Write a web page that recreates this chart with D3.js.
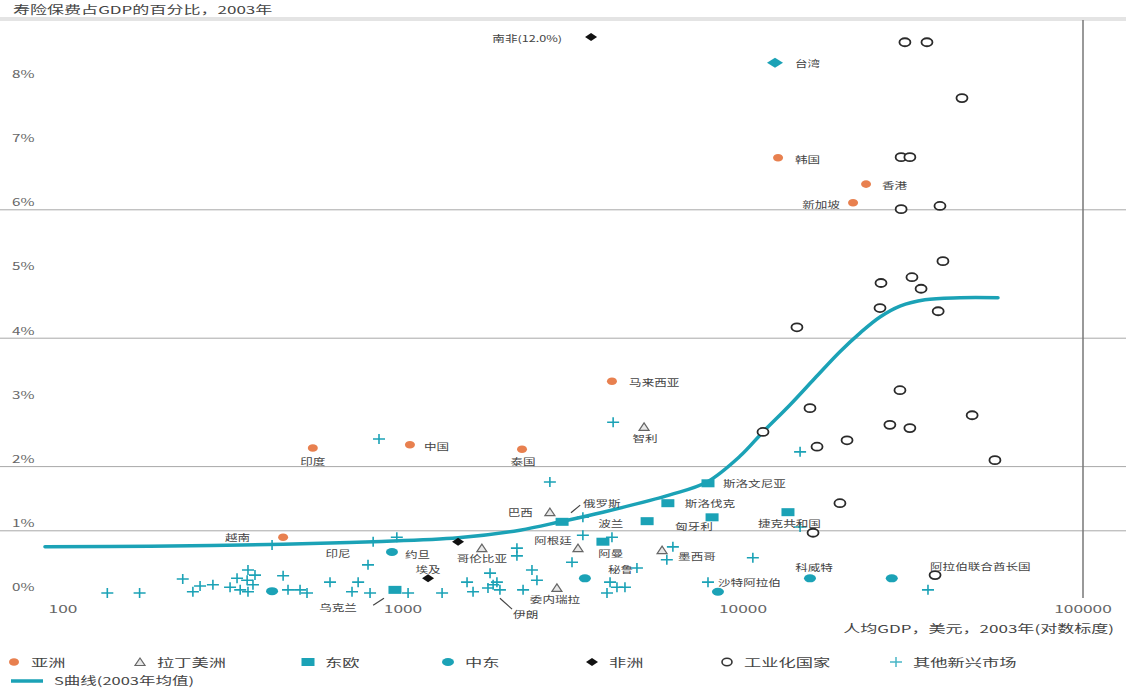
<!DOCTYPE html>
<html><head><meta charset="utf-8">
<script src="https://cdn.jsdelivr.net/npm/d3@7"></script>
<style>body{margin:0;background:#fff}svg{display:block}text{font-family:"Noto Sans CJK SC","Noto Sans",sans-serif}</style>
</head><body><svg id="c" width="1126" height="688"></svg>
<script>
// ---------- data (GDP per capita USD, life premium % of GDP) ----------
const asiaGdp = [12680,23010,21070,4117,543,1048,2239,444];
const asiaPct = [6.81,6.40,6.11,3.33,2.29,2.34,2.27,0.90];

const latamGdp = [5117,2704,1706,3271,5781,2836];
const latamPct = [2.62,1.29,0.73,0.73,0.70,0.11];

const eastEuGdp = [7889,6012,5224,8110,13560,2937,3873,947];
const eastEuPct = [1.74,1.43,1.15,1.21,1.29,1.14,0.83,0.08];

const mideastGdp = [412,928,3428,8440,15740,27390];
const mideastPct = [0.06,0.67,0.26,0.05,0.26,0.26];

const africaGdp = [3573,1185,1452];
const africaPct = [8.69,0.26,0.83];

const taiwanGdp = [12420];
const taiwanPct = [8.29];

const industrialGdp = [29940,34760,44060,29180,30960,29180,37960,38730,31400,25460,33400,25290,37500,14410,28950,15740,47200,27040,30960,20230,16510,11450,55080,19280,16070,36720];
const industrialPct = [8.61,8.61,7.74,6.82,6.82,6.01,6.06,5.20,4.95,4.86,4.77,4.47,4.42,4.17,3.19,2.91,2.80,2.65,2.60,2.41,2.31,2.54,2.10,1.43,0.97,0.31];

const otherGdp = [135,168,225,241,253,276,310,325,332,348,350,350,362,367,412,444,459,498,522,610,708,738,789,800,817,850,959,1035,1303,1543,1607,1803,1778,1841,1889,1928,2163,2163,2255,2395,2477,2704,3381,3381,4117,3141,4876,4064,4259,4496,3981,4150,6220,5970,10690,7889,14720,14720,35000];
const otherPct = [0.03,0.03,0.25,0.05,0.14,0.16,0.12,0.26,0.08,0.23,0.39,0.05,0.16,0.31,0.78,0.30,0.08,0.08,0.03,0.20,0.05,0.20,0.47,0.03,0.83,2.43,0.90,0.03,0.03,0.20,0.05,0.34,0.11,0.16,0.20,0.08,0.73,0.61,0.08,0.39,0.23,1.76,1.21,0.93,0.90,0.51,0.42,0.20,0.12,0.12,0.03,2.69,0.75,0.55,0.58,0.20,2.23,1.06,0.08];

const curveGdp = [88.5,180,444,817,1452,2208,2897,3873,6095,7833,9790,11450,13740,16290,19280,22080,25290,28950,34280,43450,56230];
const curvePct = [0.75,0.76,0.79,0.83,0.89,1.01,1.14,1.29,1.56,1.76,2.16,2.54,2.96,3.38,3.79,4.08,4.33,4.50,4.60,4.63,4.63];

const labelText = ["南非(12.0%)","台湾","韩国","香港","新加坡","马来西亚","智利","印度","中国","泰国","越南","巴西","俄罗斯","波兰","阿根廷","哥伦比亚","约旦","印尼","埃及","乌克兰","伊朗","委内瑞拉","阿曼","秘鲁","墨西哥","斯洛文尼亚","斯洛伐克","匈牙利","捷克共和国","沙特阿拉伯","科威特","阿拉伯联合酋长国"];
const labelGdp = [2937,14220,14220,25640,19280,4624,5150,543,1153,2255,355,2411,3381,3750,2762,1706,1013,644,1185,644,2108,2799,3750,4009,6442,8730,6745,6310,11070,8440,16180,35480];
const labelPct = [8.68,8.29,6.79,6.39,6.09,3.32,2.45,2.09,2.32,2.09,0.90,1.29,1.43,1.12,0.86,0.58,0.64,0.65,0.40,-0.19,-0.30,-0.06,0.65,0.40,0.61,1.74,1.43,1.07,1.12,0.20,0.44,0.45];
const labelAnchor = ["end","start","start","start","end","start","middle","middle","start","middle","end","end","start","start","middle","middle","start","middle","middle","middle","start","middle","start","start","start","start","start","start","start","start","middle","start"];

const leaderGdp1 = [817,1928,3119], leaderPct1 = [-0.16,-0.05,1.28];
const leaderGdp2 = [879,2093,3320], leaderPct2 = [-0.05,-0.22,1.40];

const yTicks = [0,1,2,3,4,5,6,7,8];
const gridValues = [1,2,4,6];
const xTicks = [100,1000,10000,100000];

const legendLabels = ["亚洲","拉丁美洲","东欧","中东","非洲","工业化国家","其他新兴市场"];
const curveLabel = "S曲线(2003年均值)";
const title = "寿险保费占GDP的百分比，2003年";
const xTitle = "人均GDP，美元，2003年(对数标度)";

// ---------- drawing ----------
const svg = d3.select("#c");
const x = d3.scaleLog().domain([100,100000]).range([63,1083]);
const y = d3.scaleLinear().domain([0,8]).range([595,81.4]);

const TEAL = "#1ba2b6", ORANGE = "#e8804f", GREY = "#555";

function txt(sel, s, px, py, o) {
  return sel.append("text")
    .attr("transform", `translate(${px},${py}) scale(${o.sx||1.5},1)`)
    .attr("text-anchor", o.anchor || "start")
    .attr("dominant-baseline", "central")
    .attr("font-size", o.size || 10)
    .attr("fill", o.fill || GREY)
    .text(s);
}

// title + underline
svg.append("rect").attr("x",0).attr("y",17).attr("width",1126).attr("height",4).attr("fill","#e4e4e4");
txt(svg, title, 13, 9, {size:11, sx:1.55, fill:"#444"});

// gridlines
svg.append("g").selectAll("line").data(gridValues).join("line")
  .attr("x1",0).attr("x2",1126).attr("y1",d=>y(d)).attr("y2",d=>y(d))
  .attr("stroke","#a8a8a8").attr("stroke-width",1);
// vertical line at 100000
svg.append("line").attr("x1",x(100000)).attr("x2",x(100000)).attr("y1",20).attr("y2",598)
  .attr("stroke","#777").attr("stroke-width",1.5);

// y tick labels
yTicks.forEach(v => txt(svg, v + "%", 12, y(v) - 8, {size:10.5, sx:1.45, fill:"#666"}));
// x tick labels
xTicks.forEach(v => txt(svg, d3.format("d")(v), x(v), 608, {size:10.5, sx:1.65, anchor:"middle", fill:"#666"}));
txt(svg, xTitle, 1114, 628, {size:11, sx:1.55, anchor:"end", fill:"#444"});

// S-curve
const curvePts = curveGdp.map((g,i)=>[x(g), y(curvePct[i])]);
svg.append("path").attr("d", d3.line().curve(d3.curveCatmullRom.alpha(0.5))(curvePts))
  .attr("fill","none").attr("stroke",TEAL).attr("stroke-width",3.5).attr("stroke-linecap","round");

// marker helpers
const plusPath = "M-6,0H6M0,-5V5";
const triPath = "M0,-4L5,3.5L-5,3.5Z";
const diaPath = "M-6,0L0,-4L6,0L0,4Z";
const pts = (G,P) => G.map((g,i)=>({x:x(g), y:y(P[i])}));
const mg = svg.append("g");

mg.append("g").selectAll("path").data(pts(otherGdp,otherPct)).join("path")
  .attr("d",plusPath).attr("transform",d=>`translate(${d.x},${d.y})`)
  .attr("stroke",TEAL).attr("stroke-width",1.6).attr("fill","none");

mg.append("g").selectAll("ellipse").data(pts(mideastGdp,mideastPct)).join("ellipse")
  .attr("cx",d=>d.x).attr("cy",d=>d.y).attr("rx",6).attr("ry",4).attr("fill",TEAL);

mg.append("g").selectAll("rect").data(pts(eastEuGdp,eastEuPct)).join("rect")
  .attr("x",d=>d.x-6.5).attr("y",d=>d.y-4).attr("width",13).attr("height",8).attr("fill",TEAL);

mg.append("g").selectAll("path").data(pts(latamGdp,latamPct)).join("path")
  .attr("d",triPath).attr("transform",d=>`translate(${d.x},${d.y})`)
  .attr("stroke","#666").attr("stroke-width",1.2).attr("fill","#e8e8e8");

mg.append("g").selectAll("ellipse").data(pts(industrialGdp,industrialPct)).join("ellipse")
  .attr("cx",d=>d.x).attr("cy",d=>d.y).attr("rx",5.5).attr("ry",4)
  .attr("fill","#fff").attr("stroke","#2a2a2a").attr("stroke-width",1.8);

mg.append("g").selectAll("ellipse").data(pts(asiaGdp,asiaPct)).join("ellipse")
  .attr("cx",d=>d.x).attr("cy",d=>d.y).attr("rx",5).attr("ry",3.8).attr("fill",ORANGE);

mg.append("g").selectAll("path").data(pts(africaGdp,africaPct)).join("path")
  .attr("d",diaPath).attr("transform",d=>`translate(${d.x},${d.y})`).attr("fill","#111");

mg.append("g").selectAll("path").data(pts(taiwanGdp,taiwanPct)).join("path")
  .attr("d","M-8,0L0,-5L8,0L0,5Z").attr("transform",d=>`translate(${d.x},${d.y})`).attr("fill",TEAL);

// leader lines
leaderGdp1.forEach((g,i)=>{
  svg.append("line").attr("x1",x(g)).attr("y1",y(leaderPct1[i]))
    .attr("x2",x(leaderGdp2[i])).attr("y2",y(leaderPct2[i]))
    .attr("stroke","#444").attr("stroke-width",1.2);
});

// labels
labelText.forEach((t,i)=>txt(svg, t, x(labelGdp[i]), y(labelPct[i]), {size:9, sx:1.4, anchor:labelAnchor[i], fill:"#444"}));

// legend
const lg = svg.append("g");
const legX = [14,140,308,448,592,727,896];
const ly = 662;
legendLabels.forEach((t,i)=>{
  const cx = legX[i];
  if (i===0) lg.append("ellipse").attr("cx",cx).attr("cy",ly).attr("rx",5).attr("ry",3.8).attr("fill",ORANGE);
  if (i===1) lg.append("path").attr("d",triPath).attr("transform",`translate(${cx},${ly})`).attr("stroke","#666").attr("stroke-width",1.2).attr("fill","#e8e8e8");
  if (i===2) lg.append("rect").attr("x",cx-6.5).attr("y",ly-4).attr("width",13).attr("height",8).attr("fill",TEAL);
  if (i===3) lg.append("ellipse").attr("cx",cx).attr("cy",ly).attr("rx",6).attr("ry",4).attr("fill",TEAL);
  if (i===4) lg.append("path").attr("d",diaPath).attr("transform",`translate(${cx},${ly})`).attr("fill","#111");
  if (i===5) lg.append("ellipse").attr("cx",cx).attr("cy",ly).attr("rx",5).attr("ry",3.8).attr("fill","#fff").attr("stroke","#333").attr("stroke-width",1.6);
  if (i===6) lg.append("path").attr("d",plusPath).attr("transform",`translate(${cx},${ly})`).attr("stroke",TEAL).attr("stroke-width",1.5).attr("fill","none").attr("opacity",0.8);
  txt(lg, t, cx + 17, ly, {size:11.5, sx:1.5, fill:"#444"});
});
lg.append("line").attr("x1",11).attr("x2",43).attr("y1",681).attr("y2",681).attr("stroke",TEAL).attr("stroke-width",3.5);
txt(lg, curveLabel, 54, 680, {size:11, sx:1.5, fill:"#444"});
</script></body></html>
